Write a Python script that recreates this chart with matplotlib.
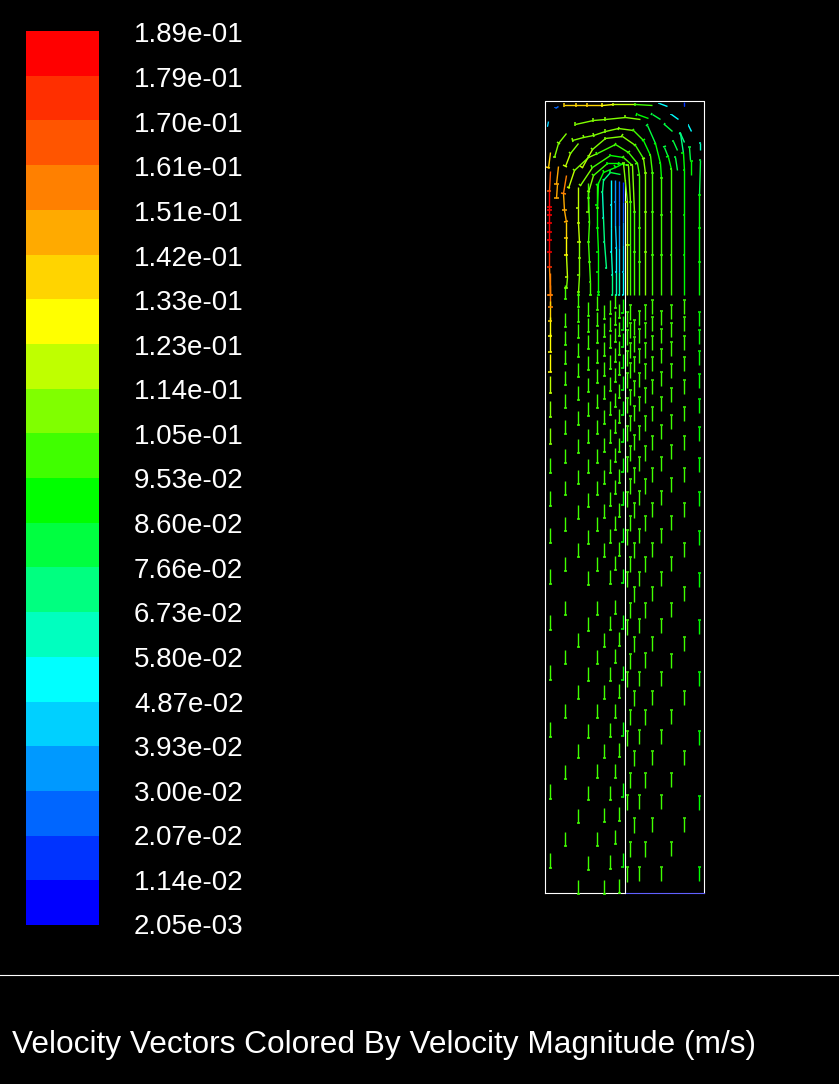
#!/usr/bin/env python3

'''Velocity vectors coloured by velocity magnitude, redrawn from a solver screenshot'''

import numpy as np
import matplotlib
matplotlib.use('Agg')
import matplotlib.pyplot as plt

from matplotlib.collections import LineCollection
from matplotlib.colors import BoundaryNorm, ListedColormap

#---------------------------------------------------------------------------------------#
#		Data
#---------------------------------------------------------------------------------------#

level_labels = ['1.89e-01','1.79e-01','1.70e-01','1.61e-01','1.51e-01','1.42e-01','1.33e-01',
		'1.23e-01','1.14e-01','1.05e-01','9.53e-02','8.60e-02','7.66e-02','6.73e-02',
		'5.80e-02','4.87e-02','3.93e-02','3.00e-02','2.07e-02','1.14e-02','2.05e-03']

band_colors = ['#ff0000','#ff2f00','#ff5500','#ff8000','#ffaa00','#ffd400','#ffff00','#bfff00',
		'#80ff00','#40ff00','#00ff00','#00ff40','#00ff80','#00ffbf','#00ffff','#00d0ff',
		'#0099ff','#0066ff','#0033ff','#0000ff']

title = 'Velocity Vectors Colored By Velocity Magnitude (m/s)'

#Lower part of the domain: straight columns, y of each vector head (screen pixels)
down_x = [550.3,565.3,578.3,588.3,597.3,604.3,610.3,615.3,619.3,622.7]
down_heads = [
	[295,307,321,336,352,372,393,417,444,473,506,543,584,630,680,737,799,868],
	[299,327,345,364,385,408,434,463,495,531,571,615,664,718,779,846],
	[307,322,338,357,377,400,425,453,484,519,557,647,699,758,823,894],
	[316,332,349,370,392,416,443,473,507,544,585,631,681,738,800,870],
	[310,326,343,363,383,408,434,463,495,531,571,615,664,718,778,846],
	[319,337,356,376,399,424,452,484,518,557,647,699,758,822,894],
	[314,331,348,369,391,415,443,473,506,543,584,630,681,737,800,869],
	[308,325,342,362,382,407,433,462,494,530,570,614,663,718,778,844],
	[318,336,355,375,398,423,452,483,517,556,646,698,757,821,893],
	[313,330,347,368,390,415,442,472,505,542,583,629,680,736,797,867],
]
down_speed = [0.102,0.100,0.100,0.100,0.100,0.098,0.098,0.098,0.098,0.095]

#First column is faster near the top, one value per head
first_col_speed = [0.155,0.152,0.140,0.132,0.130,0.126,0.118,0.112,0.108,0.104,
		0.102,0.102,0.102,0.102,0.102,0.102,0.102,0.102]

up_x = [627.3,630.3,634.3,639.3,645.3,652.3,661.3,671.3,684.3,699.3]
up_heads = [
	[312,330,351,373,398,426,457,492,530,572,620,672,731,795,867],
	[305,323,343,363,390,416,446,479,516,557,603,654,710,773,842],
	[320,337,357,381,406,435,468,503,543,587,637,691,751,818],
	[311,329,349,373,397,426,457,491,529,572,619,672,730,795,867],
	[305,323,343,364,388,416,446,479,516,557,603,653,710,773,842],
	[300,317,336,357,380,407,436,468,503,543,587,637,691,751,818],
	[311,329,349,372,397,425,457,491,529,572,619,672,730,795,867],
	[305,323,342,364,388,415,445,478,516,557,603,654,710,773,842],
	[300,317,336,357,380,407,436,468,503,543,587,637,691,751,818],
	[312,330,351,374,399,427,458,492,531,573,620,672,731,796,867],
]
up_speed = [0.100,0.100,0.100,0.098,0.100,0.098,0.098,0.098,0.096,0.094]

crop_x0,crop_y0,crop_scale = 535,95,3

arc_x = [
	[44,42,43,43,43,43,43,43,43,43,44],
	[45,40],
	[68,64],
	[66,64],
	[92,85,88,92,93,92,95,93],
	[92,70,58],
	[40,37],
	[68,60],
	[350,300,235,200,155,123,88],
	[395,372],
	[448,448],
	[428,408],
	[468,460],
	[495,495],
	[375,350],
	[340,305],
	[315,270,210,175,120],
	[410,388],
	[130,105,90],
	[448,436],
	[425,415],
	[493,493,493,493,495],
	[469,469],
	[466,463],
	[447,447,447,447,443,436],
	[425,420],
	[408,408,408,408,398,388],
	[379,379,379,379,375,360,335],
	[352,352,352,352,345,325,295,250,210,175,145,112],
	[331,331,331,331,325,300,260,210,170,140],
	[313,313,313,311,305,280,240,185,160,118,100],
	[298,298,298,290,265,225,170,135],
	[286,285,285,278,250,215,175,160,158],
	[277,277,275,265,240,205,186,186],
	[255,225,205,200,205,208,212],
	[128,128,130,132,133,131,130,130],
	[160,160,162,160,163,165,165],
	[188,185,187,188,188,190,190],
	[228,228,229,228,230,230],
	[240,240,241,243,243,243],
	[253,253,253,253,253,253],
	[265,264,264,265,263,263],
]
arc_y = [
	[228,288,335,345,360,385,410,435,470,515,600],
	[170,218],
	[212,268],
	[268,310],
	[240,295,345,380,430,480,545,578],
	[113,145,186],
	[78,92],
	[32,38],
	[30,28,28,30,30,30,31],
	[32,25],
	[22,32],
	[73,58],
	[108,90],
	[165,145],
	[72,58],
	[70,58],
	[72,65,72,75,87],
	[108,88],
	[143,175,213],
	[140,115],
	[165,138],
	[600,500,400,300,195],
	[240,198],
	[195,157],
	[600,480,360,225,175,115],
	[225,185],
	[600,480,350,222,185,155],
	[600,480,360,250,205,145,90],
	[600,480,350,235,180,135,105,100,108,120,125,135],
	[600,470,350,235,190,150,122,130,162,215],
	[600,500,400,240,205,170,148,175,185,225,278],
	[600,470,350,210,185,180,215,270],
	[600,450,320,210,205,205,240,290,350],
	[600,450,320,205,215,230,270,340],
	[238,230,255,290,370,440,520],
	[275,340,385,440,490,540,590,600],
	[265,310,380,440,500,560,600],
	[262,330,400,470,530,590,600],
	[255,330,400,470,540,600],
	[255,320,390,460,530,600],
	[258,320,390,460,530,600],
	[260,320,380,450,530,600],
]
#Speed of each arc, one value per vertex after the first
arc_speed = [
	[0.165,0.187,0.187,0.187,0.187,0.187,0.187,0.187,0.176,0.155],
	[0.140],
	[0.150],
	[0.150],
	[0.155,0.150,0.142,0.135,0.130,0.118,0.112],
	[0.105,0.108],
	[0.048],
	[0.025],
	[0.100,0.115,0.130,0.135,0.140,0.140],
	[0.052],
	[0.012],
	[0.055],
	[0.052],
	[0.062],
	[0.085],
	[0.092],
	[0.105,0.112,0.112,0.112],
	[0.080],
	[0.112,0.115],
	[0.072],
	[0.078],
	[0.090,0.090,0.090,0.085],
	[0.090],
	[0.085],
	[0.092,0.092,0.092,0.088,0.075],
	[0.085],
	[0.096,0.096,0.096,0.090,0.085],
	[0.098,0.098,0.098,0.095,0.090,0.085],
	[0.102,0.102,0.102,0.098,0.095,0.102,0.108,0.112,0.112,0.112,0.112],
	[0.112,0.112,0.112,0.108,0.100,0.105,0.110,0.112,0.115],
	[0.100,0.100,0.100,0.100,0.098,0.098,0.102,0.108,0.112,0.118],
	[0.100,0.100,0.110,0.098,0.095,0.102,0.112],
	[0.100,0.100,0.112,0.095,0.092,0.098,0.105,0.108],
	[0.116,0.116,0.112,0.092,0.090,0.095,0.100],
	[0.082,0.070,0.068,0.066,0.068,0.072],
	[0.116,0.116,0.116,0.112,0.108,0.105,0.104],
	[0.100,0.100,0.100,0.100,0.100,0.100],
	[0.090,0.088,0.088,0.090,0.092,0.094],
	[0.050,0.050,0.055,0.062,0.068],
	[0.036,0.038,0.045,0.055,0.065],
	[0.025,0.028,0.036,0.048,0.060],
	[0.018,0.022,0.030,0.045,0.055],
]

#---------------------------------------------------------------------------------------#
#		Colour scale
#---------------------------------------------------------------------------------------#

levels	= np.array([float(label) for label in level_labels])[::-1]
cmap	= ListedColormap(band_colors[::-1])
norm	= BoundaryNorm(levels,cmap.N)

#---------------------------------------------------------------------------------------#
#		Build vectors
#---------------------------------------------------------------------------------------#

#Vector length in pixels per m/s
length_scale = 145.
#Half width of the small bar at a vector head, in pixels per m/s
head_scale = 15.

shafts,shaft_speed = [],[]
heads,head_speed = [],[]

def add_vector(tail,head,speed):
	'''Store the shaft of a vector and the cross bar at its head.'''

	tail,head = np.asarray(tail,float),np.asarray(head,float)
	shafts.append([tail,head])
	shaft_speed.append(speed)

	direction = head-tail
	direction = direction/max(np.hypot(*direction),1e-6)
	normal = np.array([-direction[1],direction[0]])*speed*head_scale
	heads.append([head-normal,head+normal])
	head_speed.append(speed)

for col,(xpos,col_heads) in enumerate(zip(down_x,down_heads)):
	for num,ypos in enumerate(col_heads):
		speed = first_col_speed[num] if col == 0 else down_speed[col]
		add_vector((xpos,ypos-speed*length_scale),(xpos,ypos),speed)

for xpos,col_heads,speed in zip(up_x,up_heads,up_speed):
	for ypos in col_heads:
		add_vector((xpos,ypos+speed*length_scale),(xpos,ypos),speed)

for xvals,yvals,speeds in zip(arc_x,arc_y,arc_speed):
	xvals = crop_x0+np.array(xvals)/crop_scale
	yvals = crop_y0+np.array(yvals)/crop_scale
	for num,speed in enumerate(speeds):
		add_vector((xvals[num],yvals[num]),(xvals[num+1],yvals[num+1]),speed)

#---------------------------------------------------------------------------------------#
#		Plot
#---------------------------------------------------------------------------------------#

plt.rcParams['font.family'] = ['Liberation Sans','DejaVu Sans']

fig = plt.figure(figsize=(8.39,10.84),dpi=100,facecolor='black')
ax = fig.add_axes([0,0,1,1])
ax.set_xlim(0,839)
ax.set_ylim(1084,0)
ax.axis('off')

#Colour bar, red on top
edges = np.linspace(925,31,len(levels))
ax.pcolormesh([26,99],edges,(0.5*(levels[1:]+levels[:-1]))[:,None],
		cmap=cmap,norm=norm,antialiased=False)

for num,label in enumerate(level_labels):
	ax.text(134,42.5+num*44.6,label,color='white',fontsize=20,ha='left',va='baseline')

#Vectors
for segments,speeds,width in ((shafts,shaft_speed,1.0),(heads,head_speed,1.1)):
	lines = LineCollection(segments,array=np.array(speeds),cmap=cmap,norm=norm,
			linewidths=width,zorder=3)
	lines.set_snap(True)
	ax.add_collection(lines)

#Domain outline
ax.plot([545,545,704,704],[893,101,101,893],color='white',lw=0.8,zorder=2)
ax.plot([545,625],[893,893],color='white',lw=0.8,zorder=2)
ax.plot([625,704],[893,893],color='#6060ff',lw=0.8,zorder=2)
ax.plot([625,625],[180,893],color='white',lw=0.8,zorder=2)

#Footer
ax.plot([0,839],[975,975],color='white',lw=0.8)
ax.text(12,1052.5,title,color='white',fontsize=22.8,ha='left',va='baseline')

fig.savefig('out.png',dpi=100,facecolor='black')
plt.close(fig)
